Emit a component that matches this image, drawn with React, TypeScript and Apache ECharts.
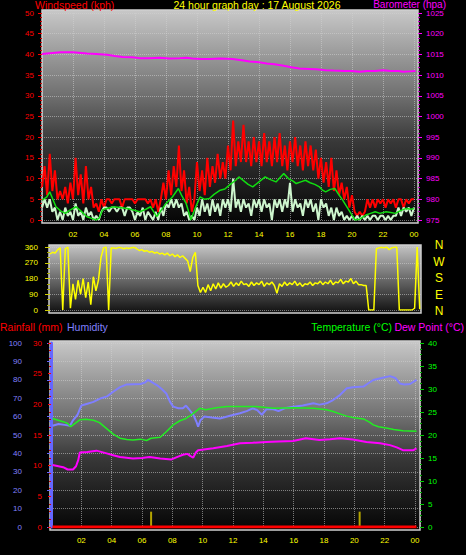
import React, { useEffect, useRef } from 'react';
import * as echarts from 'echarts';

const FONT = '"Liberation Sans", Arial, sans-serif';

// x tick labels (hours)
const xTickLabels = ['02', '04', '06', '08', '10', '12', '14', '16', '18', '20', '22', '00'];

// 10-minute samples (hour = index / 6)
const gustKph = [
  8, 13, 6, 16, 7, 12, 5, 7, 5, 8, 4, 9, 5, 15, 6, 11, 4, 13, 5, 8, 3, 4, 2, 5, 3,
  5, 5, 4, 5, 5, 5, 3, 5, 5, 5, 5, 4, 5, 5, 5, 5, 4, 5,
  3, 5, 2, 5, 9, 5, 12, 6, 13, 8, 18, 7, 12, 4, 8, 2, 5, 14, 7, 12, 6, 15, 8, 13, 9, 16, 10, 14, 10,
  18, 12, 24, 13, 19, 14, 23, 14, 19, 13, 20, 14, 19, 13, 21, 14, 19, 13, 20, 14,
  21, 13, 18, 12, 19, 14, 20, 13, 18, 12, 19, 13, 18, 12, 17, 10, 15, 9, 14, 8,
  15, 7, 12, 6, 9, 5, 8, 3, 6, 2, 1, 2, 1, 2, 5, 3,
  5, 3, 5, 4, 5, 3, 5, 4, 5, 3, 5, 5, 3, 5, 4, 5, 5,
];

const speedKph = [
  3, 5, 3, 5, 2, 3, 0, 2, 0, 3, 1, 2, 0, 4, 1, 2, 0, 3, 1, 2, 0, 1, 0, 2, 3,
  3, 2, 3, 3, 2, 3, 3, 1, 3, 3, 2, 0, 2, 1, 3, 0, 2, 1, 0, 2, 0, 3, 1,
  4, 3, 5, 3, 5, 3, 4, 1, 2, 0, 1, 0, 3, 1, 5, 2, 4, 1, 5, 2, 4, 1, 5, 3,
  5, 2, 10, 3, 5, 2, 5, 3, 4, 1, 5, 3, 5, 2, 5, 3, 4, 0, 5, 3, 5, 2, 5, 3, 9, 2, 5, 3, 4, 1, 5, 3, 5, 2, 4, 0,
  5, 3, 4, 1, 3, 0, 3, 1, 2, 0, 1, 0, 1, 0, 1, 0, 1, 0, 1, 0, 1, 1, 0, 1, 1, 0, 1, 0, 1, 1, 3, 1, 3, 2, 3, 1, 3,
];

const windDirDeg = [
  320, 330, 325, 345, 355, 0, 350, 360, 10, 150, 60, 170, 90, 180, 70, 160, 30, 190, 110, 170, 300, 355, 360, 0, 355,
  355, 352, 358, 355, 350, 355, 352, 356, 358, 350, 340, 345, 335, 340, 330, 335, 325, 330, 320, 325, 315, 325, 310, 320, 305, 315, 300, 310, 295,
  280, 220, 300, 330, 140, 100, 130, 100, 145, 110, 150, 120, 155, 125, 150, 130,
  140, 160, 135, 155, 140, 165, 145, 150, 135, 160, 140, 155, 145, 165, 135, 155, 145, 160, 140, 95,
  150, 135, 160, 140, 155, 145, 165, 140, 155, 135, 150, 145, 160, 140, 155, 150, 165, 145, 160, 150,
  170, 145, 160, 155, 175, 150, 165, 160, 180, 150, 165,
  145, 145, 140, 140, 0, 0, 0, 350, 355, 358, 355, 360, 345, 355, 358, 360, 0, 0, 0, 0, 0, 0, 10, 360, 5,
];

// [hour, value]
const avgWindKph: [number, number][] = [
  [0, 4.8], [0.3, 5.5], [0.5, 6.8], [0.7, 5], [0.9, 3.2], [1.2, 2.2], [1.5, 1.6], [1.8, 2.4], [2.2, 3.2], [2.5, 2.2],
  [2.9, 0.8], [3.2, 0.4], [3.5, 0], [3.7, 0.5], [3.9, 2.4], [4.2, 2.8], [4.6, 3.2], [5.0, 3.0], [5.5, 2.8], [5.9, 2.4],
  [6.3, 2.0], [6.7, 2.6], [7.0, 3.2], [7.2, 2], [7.4, 0.8], [7.7, 2.4], [8.0, 4.0], [8.4, 5.5], [8.8, 7.6], [9.0, 6],
  [9.3, 4.0], [9.5, 1.5], [9.6, 0], [9.9, 3], [10.2, 5.6], [10.5, 5], [10.8, 5.2], [11.1, 6.2], [11.5, 7.2], [11.8, 7.5],
  [12.2, 8.8], [12.5, 9.6], [12.7, 10.4], [13.0, 9.5], [13.3, 8.6], [13.6, 8.0], [14.0, 9.2], [14.4, 10.4], [14.7, 9.8],
  [15.1, 9.2], [15.3, 10], [15.6, 11.2], [15.9, 10], [16.2, 9.4], [16.4, 8.8], [16.7, 9.2], [17.0, 9.6], [17.3, 9],
  [17.6, 8.6], [17.9, 8.0], [18.1, 7.2], [18.3, 6.8], [18.6, 7.4], [18.9, 7.6], [19.1, 6.4], [19.4, 4.8], [19.6, 3.6],
  [19.8, 2.4], [20.0, 1.2], [20.2, 0], [20.5, 0.2], [20.9, 1.2], [21.2, 1.6], [21.5, 2], [21.8, 1.6], [22.2, 2],
  [22.5, 1.8], [22.8, 1.6], [23.1, 2.2], [23.5, 2.8], [23.8, 2.6], [24.0, 2.8],
];

const baroHpa: [number, number][] = [
  [0, 1015.1], [0.5, 1015.3], [1.2, 1015.5], [2.0, 1015.5], [2.9, 1015.2], [3.5, 1015.1], [4.2, 1014.9], [4.7, 1014.6],
  [5.2, 1014.4], [5.8, 1014.3], [6.3, 1014.1], [6.9, 1014.1], [7.6, 1014.2], [8.2, 1014.0], [8.9, 1014.1], [9.3, 1014.2],
  [9.7, 1014.0], [10.3, 1013.9], [10.8, 1013.9], [11.5, 1014.0], [12.3, 1013.9], [12.9, 1013.6], [13.4, 1013.3],
  [14.0, 1013.1], [14.5, 1012.8], [15.0, 1012.6], [15.5, 1012.3], [16.1, 1011.9], [16.6, 1011.6], [17.2, 1011.5],
  [17.7, 1011.4], [18.3, 1011.2], [18.8, 1011.1], [19.5, 1011.0], [20.0, 1011.0], [20.5, 1010.8], [21.0, 1011.0],
  [21.5, 1011.0], [22.0, 1011.2], [22.5, 1011.0], [23.0, 1011.0], [23.3, 1010.8], [23.7, 1010.9], [24.1, 1011.0],
];

const humidityPct: [number, number][] = [
  [0.1, 55], [0.5, 56], [0.9, 55.5], [1.25, 55], [1.45, 58], [1.75, 61], [1.9, 64], [2.0, 66], [2.4, 67], [2.8, 68],
  [3.3, 70], [3.7, 71], [4.1, 73.5], [4.55, 76], [5.0, 77.5], [5.9, 77.7], [6.2, 78.5], [6.4, 80], [6.7, 78.5], [7.0, 77],
  [7.3, 75], [7.6, 72.6], [7.85, 68], [8.06, 65.4], [8.4, 64.5], [8.7, 64.5], [8.9, 66], [9.1, 64], [9.38, 61], [9.6, 57],
  [9.7, 54.5], [9.85, 58], [10.1, 60], [10.6, 59.5], [11.14, 59], [11.8, 60.5], [12.46, 61.8], [12.9, 63], [13.3, 64.5],
  [13.6, 63.5], [13.9, 61], [14.2, 64], [14.66, 64], [15.0, 63], [15.4, 64.5], [15.97, 65.4], [16.6, 66], [17.3, 67.2],
  [17.7, 66.5], [18.17, 67.2], [18.6, 69], [19.05, 71.7], [19.5, 75.4], [19.9, 76], [20.6, 76.3], [20.9, 78], [21.25, 79.9],
  [21.8, 81], [22.35, 82], [22.7, 81], [23.0, 78], [23.3, 77.5], [23.67, 77.7], [24.1, 80],
];

const temperatureC: [number, number][] = [
  [0.1, 23.6], [0.8, 22.9], [1.1, 22.5], [1.3, 21.8], [1.5, 22.3], [1.9, 23.3], [2.3, 23.4], [2.8, 23.2], [3.2, 22.7],
  [3.67, 21.4], [4.1, 20.2], [4.55, 19.3], [5.0, 19.0], [5.4, 18.9], [5.9, 19.1], [6.3, 18.8], [6.6, 19.3], [7.2, 19.5],
  [7.6, 20.7], [8.06, 22.2], [8.5, 23.1], [8.9, 23.6], [9.3, 24.5], [9.8, 25.8], [10.2, 25.5], [10.9, 25.9], [11.6, 26.2],
  [12.46, 26.2], [13.5, 26.2], [14.66, 25.8], [15.97, 25.9], [17.3, 25.8], [18.17, 25.5], [18.6, 25.1], [19.05, 24.6],
  [19.5, 24.1], [19.9, 23.8], [20.6, 23.5], [21.0, 22.8], [21.25, 22.2], [21.6, 21.8], [22.1, 21.5], [22.6, 21.2],
  [23.2, 20.9], [24.1, 20.8],
];

const dewPointC: [number, number][] = [
  [0.1, 13.5], [0.8, 13.0], [1.1, 12.5], [1.45, 12.5], [1.65, 13.2], [1.8, 14.6], [1.9, 16.2], [2.4, 16.3], [3.0, 16.6],
  [3.67, 16.0], [4.1, 15.6], [4.55, 15.2], [5.4, 14.9], [6.0, 15.0], [6.5, 15.2], [7.2, 14.9], [7.95, 14.7], [8.3, 15.2],
  [8.7, 15.7], [9.0, 15.9], [9.2, 15.4], [9.38, 15.1], [9.55, 16.2], [9.7, 16.7], [10.2, 16.9], [10.7, 17.1], [11.6, 17.6],
  [12.46, 18.2], [13.3, 18.3], [14.2, 18.5], [15.0, 18.6], [15.97, 18.7], [16.8, 19.3], [17.7, 18.9], [18.4, 19.1],
  [19.05, 19.3], [19.9, 19.0], [20.8, 18.5], [21.7, 18.2], [22.35, 17.8], [22.8, 17.3], [23.2, 16.7], [23.9, 16.7], [24.1, 17.1],
];

const rainfallMm: [number, number][] = [[0.1, 0], [24.1, 0]];
const rainMarks: [number, number][] = [[6.6, 2.5], [20.35, 2.5]];

const compassLabels = ['N', 'W', 'S', 'E', 'N'];

const hourLabel = (v: number) => {
  const r = Math.round(v);
  if (Math.abs(v - r) > 1e-6 || r <= 0 || r % 2 !== 0) return '';
  return xTickLabels[r / 2 - 1] || '';
};

const grad = (stops: [number, string][]) =>
  new echarts.graphic.LinearGradient(0, 0, 0, 1, stops.map(([offset, color]) => ({ offset, color })));

const txt = (text: string, x: number, y: number, fill: string, size = 10.5, align = 'left', vAlign = 'middle', lh = size) => ({
  type: 'text',
  x,
  y,
  silent: true,
  style: { text, fill, fontSize: size, lineHeight: lh, fontFamily: FONT, align, verticalAlign: vAlign },
});

const frameStroke = '#cfcfcf';
const dotted = { type: 'dotted' as const, color: 'rgba(210,210,210,0.55)', width: 1 };

export default function App() {
  const ref = useRef<HTMLDivElement>(null);
  useEffect(() => {
    if (!ref.current) return;
    const chart = echarts.init(ref.current, undefined, { renderer: 'svg' });
    const tickLabel = (color: string) => ({ color, fontSize: 8, lineHeight: 7, fontFamily: FONT, formatter: (v: number) => String(v) });
    const option: any = {
      animation: false,
      backgroundColor: '#000',
      graphic: {
        elements: [
          {
            type: 'rect', z: -1, silent: true,
            shape: { x: 42, y: 10, width: 376, height: 213 },
            style: { fill: grad([[0, '#c8c8c8'], [0.4, '#707070'], [0.62, '#383838'], [1, '#050505']]), stroke: frameStroke, lineWidth: 1.5 },
          },
          {
            type: 'rect', z: -1, silent: true,
            shape: { x: 49, y: 245, width: 372, height: 68 },
            style: { fill: grad([[0, '#c4c4c4'], [0.5, '#6a6a6a'], [1, '#101010']]), stroke: frameStroke, lineWidth: 1.5 },
          },
          {
            type: 'rect', z: -1, silent: true,
            shape: { x: 50, y: 341, width: 370, height: 189 },
            style: { fill: grad([[0, '#c8c8c8'], [0.4, '#707070'], [0.62, '#383838'], [1, '#050505']]), stroke: frameStroke, lineWidth: 1.5 },
          },
          txt('Windspeed (kph)', 35, 0, '#ff0000', 10.5, 'left', 'top', 9),
          txt('24 hour graph day : 17 August 2026', 257, 0, '#ffff00', 10.5, 'center', 'top', 9),
          txt('Barometer (hpa)', 446, 0, '#ff00ff', 10, 'right', 'top', 9),
          txt('Rainfall (mm)', 0, 327, '#ff0000'),
          txt('Humidity', 67, 327, '#8080ff'),
          txt('Temperature (°C)', 392, 327, '#00ff00', 10.5, 'right'),
          txt('Dew Point (°C)', 464, 327, '#ff00ff', 10.5, 'right'),
          ...compassLabels.map((c, i) => txt(c, 439, 245 + i * 16.5, '#ffff00', 12, 'center')),
        ],
      },
      grid: [
        { left: 42, top: 13, width: 376, height: 207 },
        { left: 50, top: 247, width: 371, height: 63 },
        { left: 51, top: 343, width: 369, height: 184 },
      ],
      xAxis: [
        {
          gridIndex: 0, type: 'value', min: 0, max: 24.26, interval: 2,
          axisLine: { show: false }, axisTick: { show: false },
          axisLabel: { ...tickLabel('#ffff00'), margin: 11, formatter: hourLabel },
          splitLine: { show: true, lineStyle: dotted },
        },
        {
          gridIndex: 1, type: 'value', min: 0, max: 24.25, interval: 2,
          axisLine: { show: false }, axisTick: { show: false }, axisLabel: { show: false },
          splitLine: { show: false },
        },
        {
          gridIndex: 2, type: 'value', min: 0, max: 24.33, interval: 2,
          axisLine: { show: false }, axisTick: { show: false },
          axisLabel: { ...tickLabel('#ffff00'), margin: 10, formatter: hourLabel },
          splitLine: { show: true, lineStyle: dotted },
        },
      ],
      yAxis: [
        {
          gridIndex: 0, type: 'value', min: 0, max: 50, interval: 5, position: 'left',
          axisLine: { show: false },
          axisTick: { show: true, length: 4, lineStyle: { color: '#ff0000' } },
          minorTick: { show: true, splitNumber: 5, length: 2, lineStyle: { color: '#cc0000' } },
          axisLabel: { ...tickLabel('#ff0000'), margin: 8 },
          splitLine: { show: true, lineStyle: dotted },
        },
        {
          gridIndex: 0, type: 'value', min: 975, max: 1025, interval: 5, position: 'right',
          axisLine: { show: false },
          axisTick: { show: true, length: 4, lineStyle: { color: '#ff00ff' } },
          minorTick: { show: true, splitNumber: 5, length: 2, lineStyle: { color: '#cc00cc' } },
          axisLabel: { ...tickLabel('#ff00ff'), margin: 8 },
          splitLine: { show: false },
        },
        {
          gridIndex: 1, type: 'value', min: 0, max: 360, interval: 90, position: 'left',
          axisLine: { show: false },
          axisTick: { show: true, length: 5, lineStyle: { color: '#cccc00' } },
          minorTick: { show: true, splitNumber: 3, length: 3, lineStyle: { color: '#aaaa00' } },
          axisLabel: { ...tickLabel('#ffff00'), margin: 12 },
          splitLine: { show: true, lineStyle: dotted },
        },
        {
          gridIndex: 2, type: 'value', min: 0, max: 100, interval: 10, position: 'left', offset: 21,
          axisLine: { show: true, lineStyle: { color: '#6666ff', width: 3 } },
          axisTick: { show: true, length: 4, lineStyle: { color: '#6666ff' } },
          minorTick: { show: true, splitNumber: 4, length: 2, lineStyle: { color: '#6666ff' } },
          axisLabel: { ...tickLabel('#8080ff'), margin: 8 },
          splitLine: { show: true, lineStyle: dotted },
        },
        {
          gridIndex: 2, type: 'value', min: 0, max: 30, interval: 5, position: 'left',
          axisLine: { show: false },
          axisTick: { show: true, length: 3, lineStyle: { color: '#ff0000' } },
          minorTick: { show: true, splitNumber: 4, length: 2, lineStyle: { color: '#cc0000' } },
          axisLabel: { ...tickLabel('#ff0000'), margin: 9 },
          splitLine: { show: false },
        },
        {
          gridIndex: 2, type: 'value', min: 0, max: 40, interval: 5, position: 'right',
          axisLine: { show: false },
          axisTick: { show: true, length: 4, lineStyle: { color: '#00cc00' } },
          minorTick: { show: true, splitNumber: 4, length: 2, lineStyle: { color: '#00aa00' } },
          axisLabel: { ...tickLabel('#00ff00'), margin: 8 },
          splitLine: { show: false },
        },
      ],
      series: [
        {
          name: 'Gust', type: 'line', xAxisIndex: 0, yAxisIndex: 0, showSymbol: false, symbol: 'none',
          data: gustKph.map((v, i) => [i / 6, v]),
          lineStyle: { color: '#ff0000', width: 2 }, z: 2,
        },
        {
          name: 'Speed', type: 'line', xAxisIndex: 0, yAxisIndex: 0, showSymbol: false, symbol: 'none',
          data: speedKph.map((v, i) => [i / 6, v]),
          lineStyle: { color: '#cdf5cd', width: 2 }, z: 3,
        },
        {
          name: 'Average', type: 'line', xAxisIndex: 0, yAxisIndex: 0, showSymbol: false, symbol: 'none',
          data: avgWindKph,
          lineStyle: { color: '#11dd11', width: 1.5 }, z: 4,
        },
        {
          name: 'Barometer', type: 'line', xAxisIndex: 0, yAxisIndex: 1, showSymbol: false, symbol: 'none',
          data: baroHpa,
          lineStyle: { color: '#ff00ff', width: 2 }, z: 5,
        },
        {
          name: 'Direction', type: 'line', xAxisIndex: 1, yAxisIndex: 2, showSymbol: false, symbol: 'none',
          data: windDirDeg.map((v, i) => [i / 6, v]),
          lineStyle: { color: '#ffff00', width: 1.5 },
        },
        {
          name: 'Rain marks', type: 'bar', xAxisIndex: 2, yAxisIndex: 4, barWidth: 2,
          data: rainMarks, itemStyle: { color: '#b4a400' }, z: 2,
        },
        {
          name: 'Rainfall', type: 'line', xAxisIndex: 2, yAxisIndex: 4, showSymbol: false, symbol: 'none',
          data: rainfallMm, lineStyle: { color: '#ff0000', width: 3 }, z: 3,
        },
        {
          name: 'Humidity', type: 'line', xAxisIndex: 2, yAxisIndex: 3, showSymbol: false, symbol: 'none',
          data: humidityPct, lineStyle: { color: '#7f7fff', width: 2 }, z: 4,
        },
        {
          name: 'Temperature', type: 'line', xAxisIndex: 2, yAxisIndex: 5, showSymbol: false, symbol: 'none',
          data: temperatureC, lineStyle: { color: '#22ee22', width: 1.5 }, z: 4,
        },
        {
          name: 'Dew Point', type: 'line', xAxisIndex: 2, yAxisIndex: 5, showSymbol: false, symbol: 'none',
          data: dewPointC, lineStyle: { color: '#ff00ff', width: 2 }, z: 5,
        },
      ],
    };
    chart.setOption(option);
    return () => chart.dispose();
  }, []);
  return (
    <div
      ref={ref}
      style={{ position: 'fixed', left: 0, top: 0, width: 466, height: 555, background: '#000' }}
    />
  );
}
